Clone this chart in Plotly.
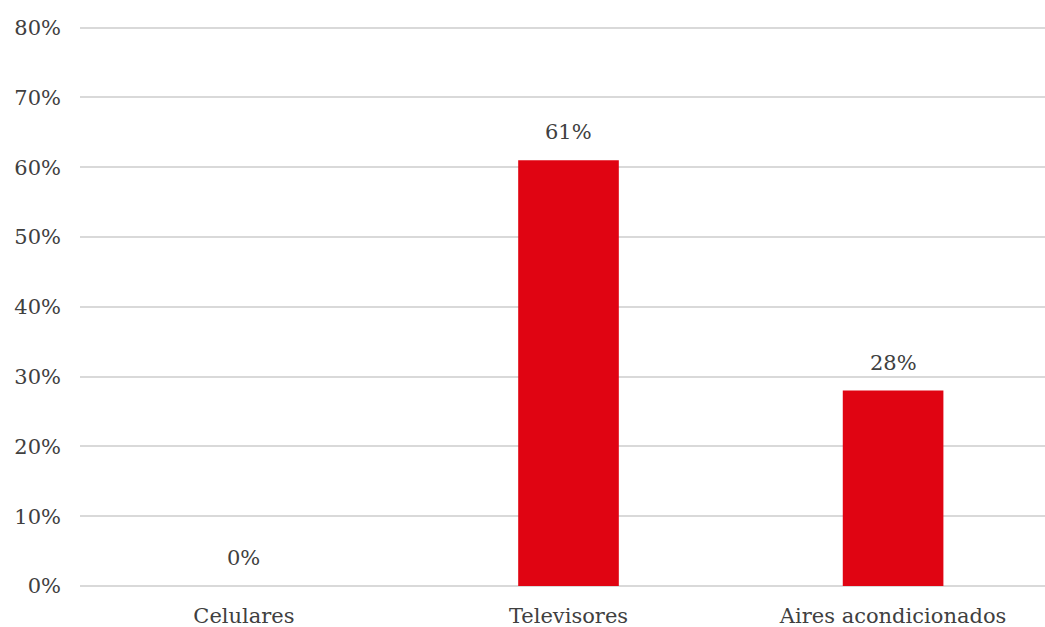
import plotly.graph_objects as go

categories = ["Celulares", "Televisores", "Aires acondicionados"]
values = [0.0, 0.61, 0.28]
value_labels = ["0%", "61%", "28%"]
tick_vals = [0.0, 0.1, 0.2, 0.3, 0.4, 0.5, 0.6, 0.7, 0.8]
tick_text = ["0%", "10%", "20%", "30%", "40%", "50%", "60%", "70%", "80%"]

font_family = "DejaVu Serif"
text_color = "#404040"
font_size = 21

fig = go.Figure()
fig.add_trace(go.Bar(
    x=list(range(len(categories))),
    y=values,
    width=0.31,
    marker=dict(color="#E00412", line=dict(width=0)),
    hoverinfo="skip",
))

for i, (v, lab) in enumerate(zip(values, value_labels)):
    fig.add_annotation(
        x=i, y=v, text=lab, showarrow=False,
        yanchor="middle", yshift=28,
        font=dict(family=font_family, size=font_size, color=text_color),
    )

fig.update_layout(
    width=1045, height=627,
    margin=dict(l=80, r=0, t=20, b=41),
    paper_bgcolor="white", plot_bgcolor="white",
    showlegend=False,
    font=dict(family=font_family, size=font_size, color=text_color),
    xaxis=dict(
        range=[-0.505, 2.468],
        tickmode="array",
        tickvals=list(range(len(categories))),
        ticktext=categories,
        showgrid=False, zeroline=False, showline=False,
        ticks="", ticklabelstandoff=15,
        tickfont=dict(family=font_family, size=font_size, color=text_color),
    ),
    yaxis=dict(
        range=[0, 0.8108],
        tickmode="array",
        tickvals=tick_vals,
        ticktext=tick_text,
        showgrid=True, gridcolor="#d9d9d9", gridwidth=1.5,
        zeroline=True, zerolinecolor="#d9d9d9", zerolinewidth=1.5,
        showline=False, ticks="", ticklabelstandoff=18,
        tickfont=dict(family=font_family, size=font_size, color=text_color),
    ),
)

fig.write_html("out.html")
